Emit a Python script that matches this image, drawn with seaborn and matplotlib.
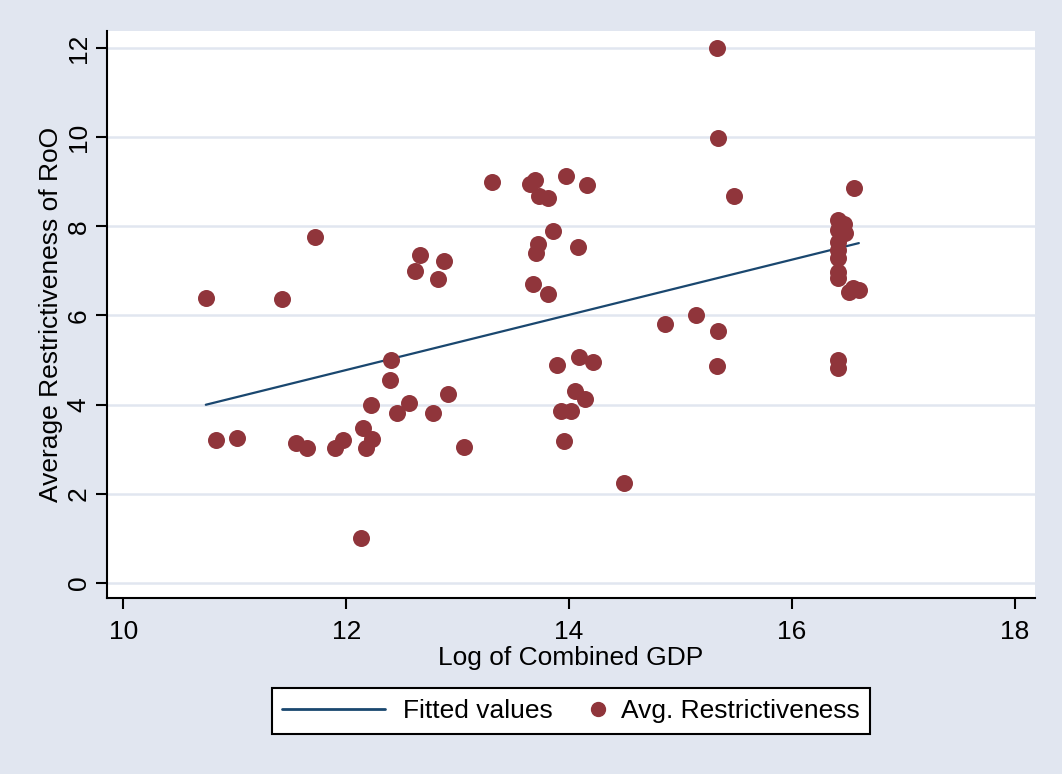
import numpy as np
import pandas as pd
import matplotlib
matplotlib.use("Agg")
import matplotlib.pyplot as plt
from matplotlib.lines import Line2D
from matplotlib.legend_handler import HandlerLine2D
import seaborn as sns

# Data
log_gdp = [10.74, 10.83, 11.02, 11.42, 11.72, 11.55, 11.65, 11.90, 11.97, 12.13,
           12.15, 12.18, 12.23, 12.22, 12.40, 12.39, 12.46, 12.56, 12.78, 12.91,
           13.06, 12.66, 12.62, 12.88, 12.82, 13.31, 13.65, 13.69, 13.73, 13.81,
           13.97, 14.16, 13.86, 13.72, 13.70, 14.08, 13.68, 13.81, 13.89, 14.09,
           14.21, 14.05, 14.14, 13.93, 14.02, 13.95, 14.49, 14.86, 15.14, 15.34,
           15.33, 15.33, 15.34, 15.48, 16.56, 16.41, 16.47, 16.41, 16.48, 16.41,
           16.41, 16.41, 16.41, 16.41, 16.51, 16.60, 16.55, 16.41, 16.41]
avg_restr = [6.40, 3.20, 3.24, 6.36, 7.75, 3.13, 3.03, 3.03, 3.20, 1.00,
             3.48, 3.03, 3.22, 3.99, 5.00, 4.55, 3.80, 4.04, 3.80, 4.23,
             3.04, 7.35, 7.00, 7.23, 6.81, 9.00, 8.96, 9.05, 8.69, 8.63,
             9.13, 8.93, 7.89, 7.61, 7.41, 7.54, 6.70, 6.48, 4.89, 5.06,
             4.95, 4.31, 4.12, 3.85, 3.85, 3.19, 2.23, 5.80, 6.01, 5.66,
             4.87, 12.00, 9.98, 8.69, 8.87, 8.14, 8.05, 7.92, 7.85, 7.65,
             7.47, 7.28, 6.98, 6.83, 6.53, 6.57, 6.61, 5.01, 4.81]
x_ticks = [10, 12, 14, 16, 18]
y_ticks = [0, 2, 4, 6, 8, 10, 12]
legend_labels = ["Fitted values", "Avg. Restrictiveness"]

df = pd.DataFrame({"lgdp": log_gdp, "restr": avg_restr})

sns.set_style("white")
plt.rcParams["font.family"] = ["Liberation Sans", "DejaVu Sans"]
plt.rcParams["text.color"] = "black"
plt.rcParams["axes.labelcolor"] = "black"
plt.rcParams["xtick.color"] = "black"
plt.rcParams["ytick.color"] = "black"

FS = 19
BG = "#E1E6F0"
MAROON = "#90353B"
NAVY = "#1A476F"

fig = plt.figure(figsize=(10.62, 7.74), dpi=100)
fig.patch.set_facecolor(BG)
ax = fig.add_axes([0.1005, 0.2274, 0.874, 0.7329])
ax.set_facecolor("white")

sns.regplot(data=df, x="lgdp", y="restr", ci=None, ax=ax,
            scatter_kws=dict(s=150, color=MAROON, linewidths=0, alpha=1, zorder=3),
            line_kws=dict(color=NAVY, lw=1.6, zorder=2))

ax.set_xlim(9.851, 18.18)
ax.set_ylim(-0.343, 12.39)
ax.set_xticks(x_ticks)
ax.set_yticks(y_ticks)
ax.set_axisbelow(True)
ax.yaxis.grid(True, color=BG, lw=1.8)
ax.xaxis.grid(False)

for s in ["top", "right"]:
    ax.spines[s].set_visible(False)
for s in ["left", "bottom"]:
    ax.spines[s].set_color("black")
    ax.spines[s].set_linewidth(1.5)

ax.tick_params(axis="both", which="major", direction="out", length=8, width=1.5,
               color="black", labelcolor="black", labelsize=FS, left=True, bottom=True)
ax.tick_params(axis="x", pad=7.5)
ax.tick_params(axis="y", pad=3.5, labelrotation=90)
for lab in ax.get_yticklabels():
    lab.set_va("center")

ax.set_xlabel("Log of Combined GDP", fontsize=FS, labelpad=2)
ax.set_ylabel("Average Restrictiveness of RoO", fontsize=FS, labelpad=3)

line_h = Line2D([0], [0], color=NAVY, lw=2)
mark_h = Line2D([0], [0], marker="o", ls="", color=MAROON, markersize=10)
leg = fig.legend([line_h, mark_h], legend_labels, loc="center",
                 bbox_to_anchor=(0.5377, 0.0814), ncol=2, frameon=True,
                 fancybox=False, edgecolor="black", framealpha=1, fontsize=FS,
                 handlelength=3.9, columnspacing=-1.95, handletextpad=0.66,
                 borderpad=0.4,
                 handler_map={mark_h: HandlerLine2D(numpoints=1, xpad=3.5)})
leg.get_frame().set_linewidth(1.5)

fig.savefig("out.png", dpi=100, facecolor=BG)
